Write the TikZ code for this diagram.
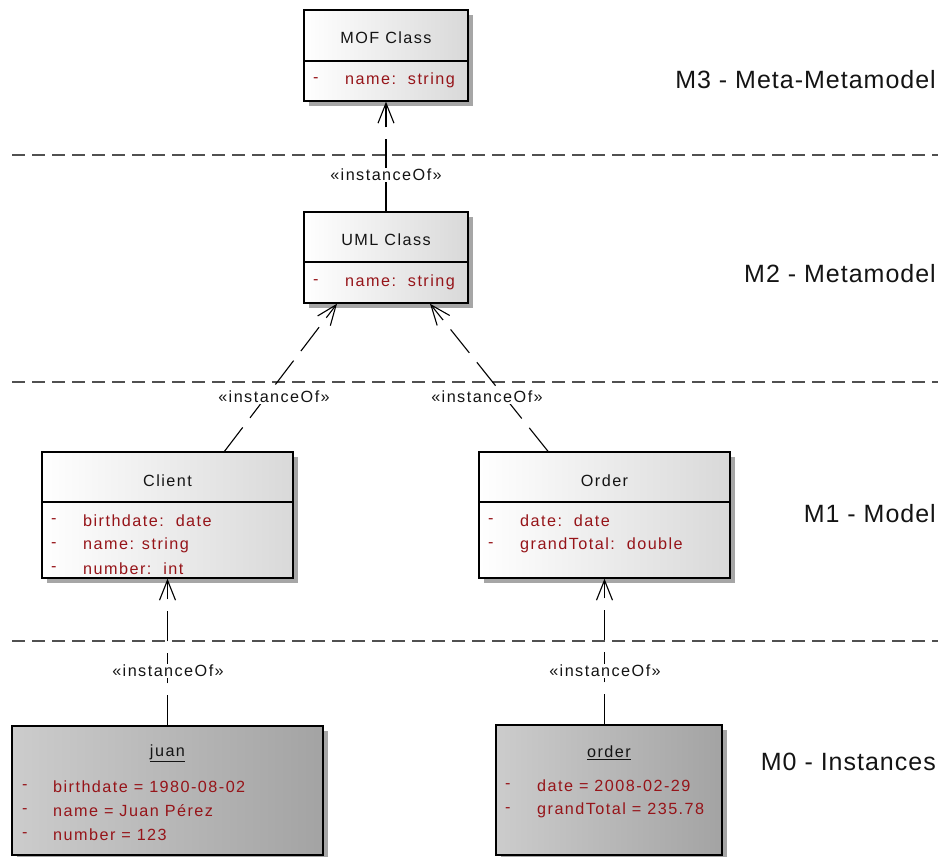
\documentclass[tikz,border=0pt]{standalone}
\usepackage{fontspec}
\setmainfont{Liberation Sans}
\newfontfamily\umlfont[LetterSpace=9]{Liberation Sans}
\newfontfamily\layerfont[LetterSpace=4]{Liberation Sans}
\usetikzlibrary{arrows.meta,shadows}
\definecolor{attrred}{RGB}{150,20,25}
\definecolor{sepgray}{RGB}{80,80,80}
\definecolor{inkgray}{RGB}{20,20,20}
\begin{document}
\begin{tikzpicture}[x=1pt,y=-1pt,
  boxshadow/.style={drop shadow={shadow xshift=5pt,shadow yshift=-5pt,fill=black!35,opacity=1}},
  classbox/.style 2 args={draw=black, line width=1.4pt, shading=axis, left color=white, right color=black!15,
    minimum width=#1, minimum height=#2, inner sep=0, boxshadow},
  objbox/.style 2 args={draw=black, line width=1.4pt, shading=axis, left color=black!20, right color=black!36,
    minimum width=#1, minimum height=#2, inner sep=0, boxshadow},
  boxtitle/.style={font=\umlfont\fontsize{16.2}{19}\selectfont, text=inkgray, inner sep=0},
  attrdash/.style={font=\umlfont\fontsize{16.2}{19}\selectfont, text=attrred, inner sep=0, anchor=west},
  attrtext/.style={font=\umlfont\fontsize{16.2}{19}\selectfont, text=attrred, inner sep=0, anchor=west},
  stereo/.style={font=\umlfont\fontsize{16.2}{19}\selectfont, text=inkgray, fill=white, inner sep=1pt},
  layer/.style={font=\layerfont\fontsize{25}{30}\selectfont, text=inkgray, inner sep=0, anchor=east},
  levelline/.style={draw=sepgray, line width=2pt, dash pattern=on 13pt off 7pt},
  compline/.style={draw=black, line width=1.3pt},
  inst/.style={draw=black, line width=1.1pt, dash pattern=on 30pt off 12pt,
    -{Straight Barb[length=20pt,width=16pt,line width=1.1pt]}}
]
\useasboundingbox (0,0) rectangle (938,857);

% level separators
\draw[levelline] (12,155) -- (938,155);
\draw[levelline] (12,382) -- (938,382);
\draw[levelline] (12,641) -- (938,641);

% level names
\node[layer] (m3) at (936,80) {M3 - Meta-Metamodel};
\node[layer] (m2) at (936,274) {M2 - Metamodel};
\node[layer] (m1) at (936,514) {M1 - Model};
\node[layer] (m0) at (936,762) {M0 - Instances};

% M3: MOF Class
\node[classbox={164pt}{91pt}] (mof) at (386,55.5) {};
\draw[compline] (304,61) -- (468,61);
\node[boxtitle] (moft) at (386,38) {MOF Class};
\node[attrdash] (mofd1) at (313,80) {-};
\node[attrtext] (mofa1) at (345,80) {name:\ \ string};

% M2: UML Class
\node[classbox={164pt}{91pt}] (uml) at (386,257.5) {};
\draw[compline] (304,262) -- (468,262);
\node[boxtitle] (umlt) at (386,240) {UML Class};
\node[attrdash] (umld1) at (313,282) {-};
\node[attrtext] (umla1) at (345,282) {name:\ \ string};

% M1: Client
\node[classbox={251pt}{126pt}] (client) at (167.5,515) {};
\draw[compline] (42,502) -- (293,502);
\node[boxtitle] (clientt) at (167.5,481) {Client};
\node[attrdash] (clientd1) at (51,521) {-};
\node[attrtext] (clienta1) at (83,521) {birthdate:\ \ date};
\node[attrdash] (clientd2) at (51,545) {-};
\node[attrtext] (clienta2) at (83,545) {name: string};
\node[attrdash] (clientd3) at (51,569) {-};
\node[attrtext] (clienta3) at (83,569) {number:\ \ int};

% M1: Order
\node[classbox={251pt}{126pt}] (ordercls) at (604.5,515) {};
\draw[compline] (479,502) -- (730,502);
\node[boxtitle] (ordert) at (604.5,481) {Order};
\node[attrdash] (orderd1) at (488,521) {-};
\node[attrtext] (ordera1) at (520,521) {date:\ \ date};
\node[attrdash] (orderd2) at (488,545) {-};
\node[attrtext] (ordera2) at (520,545) {grandTotal:\ \ double};

% M0: juan
\node[objbox={311pt}{129pt}] (juan) at (167.5,790.5) {};
\node[boxtitle] (juant) at (167.5,753) {\underline{juan}};
\node[attrdash] (juand1) at (22,787) {-};
\node[attrtext] (juana1) at (53,787) {birthdate = 1980-08-02};
\node[attrdash] (juand2) at (22,811) {-};
\node[attrtext] (juana2) at (53,811) {name = Juan Pérez};
\node[attrdash] (juand3) at (22,835) {-};
\node[attrtext] (juana3) at (53,835) {number = 123};

% M0: order
\node[objbox={226pt}{130pt}] (orderobj) at (609,790) {};
\node[boxtitle] (orderobjt) at (609,753) {\underline{order}};
\node[attrdash] (orderobjd1) at (505,786) {-};
\node[attrtext] (orderobja1) at (537,786) {date = 2008-02-29};
\node[attrdash] (orderobjd2) at (505,810) {-};
\node[attrtext] (orderobja2) at (537,810) {grandTotal = 235.78};

% instanceOf dependencies
\draw[inst] (uml.north) -- (mof.south);
\draw[inst] ([xshift=57pt]client.north) -- ([xshift=-49pt]uml.south);
\draw[inst] ([xshift=-56.5pt]ordercls.north) -- ([xshift=44pt]uml.south);
\draw[inst] (juan.north) -- (client.south);
\draw[inst] (orderobj.north -| ordercls.south) -- (ordercls.south);

% stereotype labels
\node[stereo] (s1) at (386,175) {«instanceOf»};
\node[stereo] (s2) at (274,397) {«instanceOf»};
\node[stereo] (s3) at (487,397) {«instanceOf»};
\node[stereo] (s4) at (168,671) {«instanceOf»};
\node[stereo] (s5) at (605,671) {«instanceOf»};
\end{tikzpicture}
\end{document}
